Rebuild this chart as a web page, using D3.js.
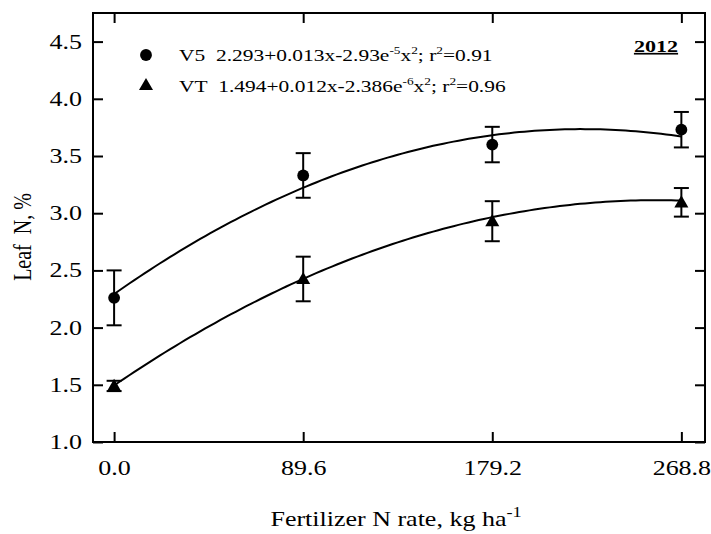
<!DOCTYPE html>
<html><head><meta charset="utf-8">
<script src="https://cdn.jsdelivr.net/npm/d3@7"></script>
<style>
body{margin:0;background:#fff}
svg{display:block}
</style>
</head><body>
<svg id="c" width="711" height="534" font-family="Liberation Serif, Times New Roman, Times, serif"></svg>
<script>
// ---- data ----
const rates = [0, 89.6, 179.2, 268.8];
const xTicks = [0, 89.6, 179.2, 268.8];
const xTickLabels = ["0.0", "89.6", "179.2", "268.8"];
const yTicks = [1.0, 1.5, 2.0, 2.5, 3.0, 3.5, 4.0, 4.5];
const yTickLabels = ["1.0", "1.5", "2.0", "2.5", "3.0", "3.5", "4.0", "4.5"];
const v5Mean = [2.26, 3.33, 3.60, 3.73];
const v5Err = [0.24, 0.195, 0.155, 0.155];
const vtMean = [1.49, 2.425, 2.93, 3.095];
const vtErr = [0.045, 0.195, 0.175, 0.125];
const v5Fit = [2.293, 0.013, -2.93e-5];
const vtFit = [1.494, 0.0126, -2.45e-5];

const FONT = "Liberation Serif, Times New Roman, Times, serif";
const SX = 1.3; // horizontal stretch of the original figure
const svg = d3.select("#c");
const L = 93, R = 705, T = 13, B = 442;
const x = d3.scaleLinear().domain([-10, 280]).range([L, R]);
const y = d3.scaleLinear().domain([1.0, 4.75]).range([B, T]);

// axes
const gL = svg.append("g").attr("transform", `translate(${L},0)`)
  .call(d3.axisLeft(y).tickValues(yTicks).tickFormat((d,i)=>yTickLabels[i]).tickSizeInner(-10).tickSizeOuter(0).tickPadding(11));
const gB = svg.append("g").attr("transform", `translate(0,${B})`)
  .call(d3.axisBottom(x).tickValues(xTicks).tickFormat((d,i)=>xTickLabels[i]).tickSizeInner(-10).tickSizeOuter(0).tickPadding(19));
const gT = svg.append("g").attr("transform", `translate(0,${T})`)
  .call(d3.axisTop(x).tickValues(xTicks).tickFormat("").tickSizeInner(-10).tickSizeOuter(0));
const gR = svg.append("g").attr("transform", `translate(${R},0)`)
  .call(d3.axisRight(y).tickValues(yTicks).tickFormat("").tickSizeInner(-10).tickSizeOuter(0));
[gL, gB, gT, gR].forEach(g => {
  g.attr("font-family", FONT).attr("font-size", 20);
  g.select(".domain").remove();
  g.selectAll(".tick line").attr("stroke", "#000").attr("stroke-width", 2);
  g.selectAll("text").attr("font-family", FONT).attr("font-size", 20).attr("fill", "#000");
});
gT.selectAll(".tick text").remove();
gR.selectAll(".tick text").remove();
gL.selectAll(".tick text").attr("x", -11 / SX).attr("transform", `scale(${SX},1)`);
gB.selectAll(".tick text").attr("transform", `scale(${SX},1)`);

// frame
svg.append("rect").attr("x", L).attr("y", T).attr("width", R - L).attr("height", B - T)
  .attr("fill", "none").attr("stroke", "#000").attr("stroke-width", 2);

// fitted curves
const fx = d3.range(0, 268.8 + 0.001, 2.4);
const poly = (c, v) => c[0] + c[1] * v + c[2] * v * v;
const line = d3.line().x(d => x(d[0])).y(d => y(d[1]));
[v5Fit, vtFit].forEach(c => {
  svg.append("path").datum(fx.map(v => [v, poly(c, v)]))
    .attr("d", line).attr("fill", "none").attr("stroke", "#000").attr("stroke-width", 2);
});

// error bars + markers
function series(means, errs, type) {
  const g = svg.append("g");
  means.forEach((m, i) => {
    const cx = x(rates[i]);
    const y1 = y(m + errs[i]), y0 = y(m - errs[i]);
    g.append("line").attr("x1", cx).attr("x2", cx).attr("y1", y1).attr("y2", y0).attr("stroke", "#000").attr("stroke-width", 2);
    [y1, y0].forEach(yy => g.append("line").attr("x1", cx - 7.5).attr("x2", cx + 7.5).attr("y1", yy).attr("y2", yy).attr("stroke", "#000").attr("stroke-width", 2));
  });
  g.selectAll("path.m").data(means).join("path").attr("class", "m")
    .attr("d", d3.symbol().type(type).size(type === d3.symbolCircle ? 110 : 85))
    .attr("transform", (d, i) => `translate(${x(rates[i])},${y(d) + (type === d3.symbolTriangle ? 1 : 0)})`)
    .attr("fill", "#000");
}
series(v5Mean, v5Err, d3.symbolCircle);
series(vtMean, vtErr, d3.symbolTriangle);

// rich text helper (superscripts via dy)
function rich(g, segs, size) {
  const t = g.append("text").attr("font-size", size).attr("font-family", FONT).attr("fill", "#000");
  let shift = 0;
  segs.forEach(s => {
    const target = s.sup ? -size * 0.42 : 0;
    const sp = t.append("tspan").attr("font-size", s.sup ? size * 0.62 : size).text(s.t);
    if (target !== shift) { sp.attr("dy", target - shift); shift = target; }
  });
  return t;
}

// legend
const legendRows = [
  { type: d3.symbolCircle, size: 110, cy: 55, base: 61,
    segs: [{t: "V5\u00A0\u00A02.293+0.013x-2.93e"}, {t: "-5", sup: true}, {t: "x"}, {t: "2", sup: true}, {t: "; r"}, {t: "2", sup: true}, {t: "=0.91"}] },
  { type: d3.symbolTriangle, size: 85, cy: 86, base: 92,
    segs: [{t: "VT\u00A0\u00A01.494+0.012x-2.386e"}, {t: "-6", sup: true}, {t: "x"}, {t: "2", sup: true}, {t: "; r"}, {t: "2", sup: true}, {t: "=0.96"}] }
];
legendRows.forEach(r => {
  svg.append("path").attr("d", d3.symbol().type(r.type).size(r.size)())
    .attr("transform", `translate(146,${r.cy})`).attr("fill", "#000");
  const g = svg.append("g").attr("transform", `translate(179,${r.base}) scale(${SX},1)`);
  rich(g, r.segs, 16.5);
});

// year label
const gy = svg.append("g").attr("transform", `translate(656,52) scale(${SX},1)`);
gy.append("text").attr("text-anchor", "middle").attr("font-size", 17).attr("font-weight", "bold")
  .attr("font-family", FONT).attr("text-decoration", "underline").attr("fill", "#000").text("2012");

// axis titles
const gx = svg.append("g").attr("transform", `translate(396,526) scale(${SX},1)`);
const xt = gx.append("text").attr("text-anchor", "middle").attr("font-size", 20).attr("font-family", FONT).attr("fill", "#000");
xt.append("tspan").text("Fertilizer N rate, kg ha");
xt.append("tspan").attr("font-size", 14).attr("dy", -9).text("-1");

const gyT = svg.append("g").attr("transform", `translate(31,237) scale(${SX},1) rotate(-90)`);
gyT.append("text").attr("text-anchor", "middle").attr("font-size", 20).attr("font-family", FONT)
  .attr("fill", "#000").text("Leaf\u00A0\u00A0N, %");
</script>
</body></html>
